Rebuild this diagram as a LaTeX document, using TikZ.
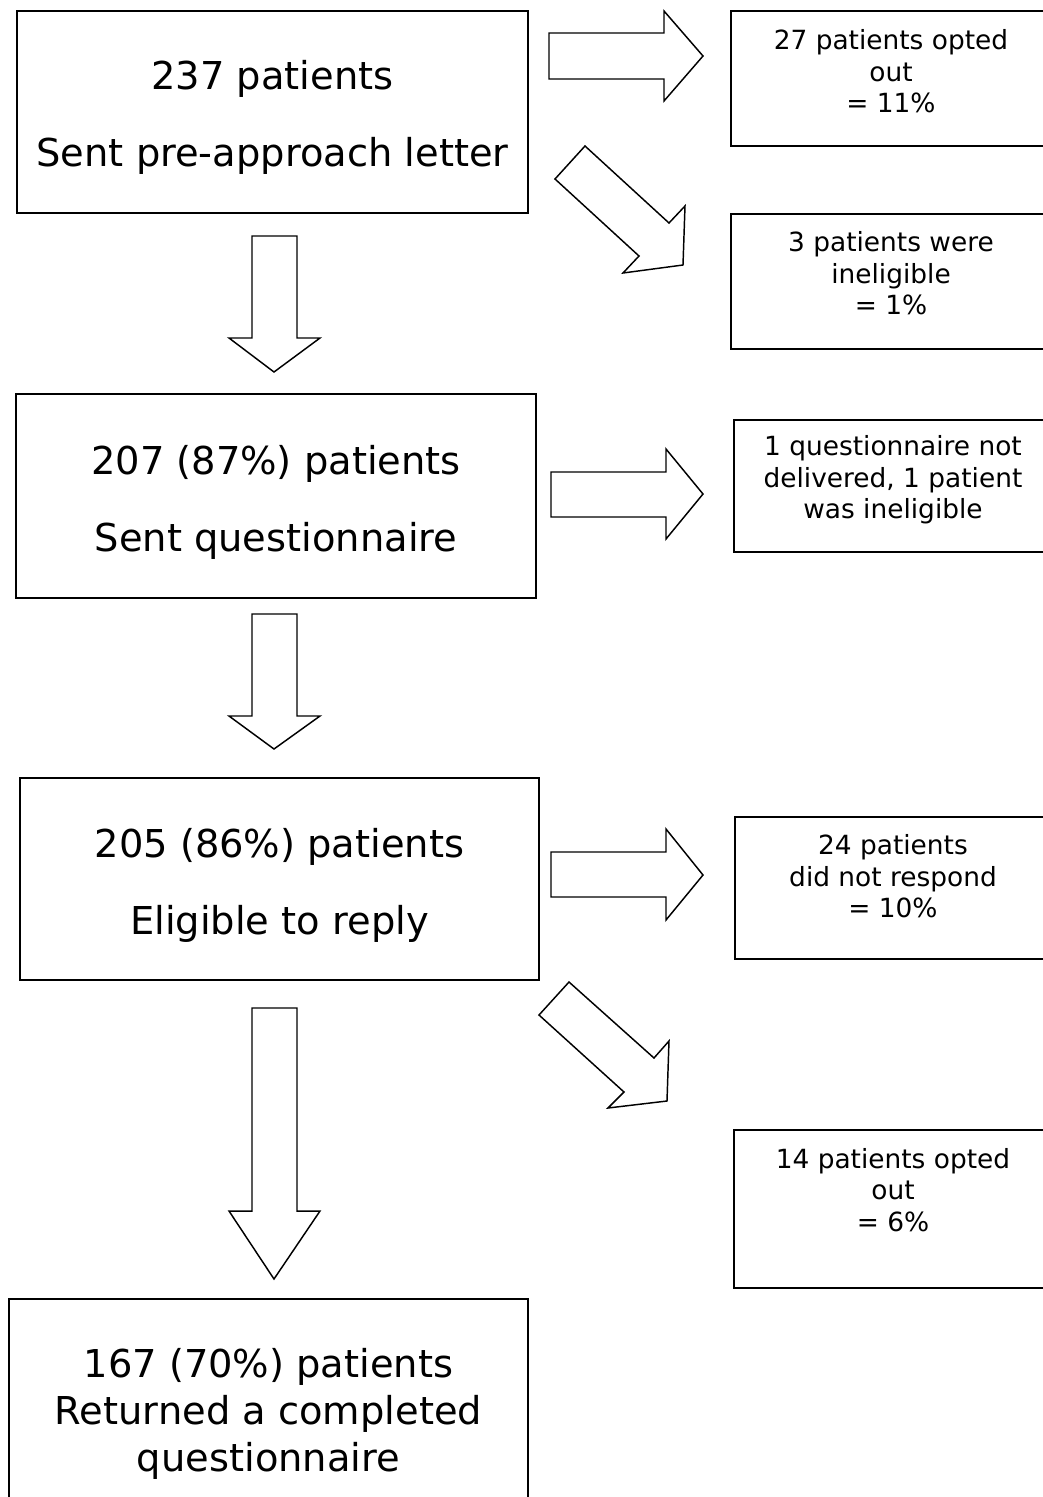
\documentclass[tikz,border=0pt]{standalone}
\usepackage{fontspec}
\setmainfont{DejaVu Sans}
\begin{document}
\begin{tikzpicture}[x=0.75pt,y=-0.75pt,
  box/.style={draw, line width=1.1pt, inner sep=0pt, outer sep=0pt},
  bigtxt/.style={align=center, inner sep=0pt, font=\fontsize{28.8}{57.75}\selectfont},
  smalltxt/.style={align=center, inner sep=0pt, font=\fontsize{19.8}{23.6}\selectfont},
  blockarrow/.style={draw, line width=1.1pt, line join=miter, fill=white}]
\useasboundingbox (0,0) rectangle (1043,1497);
% main boxes
\node[box, minimum width=383.25pt, minimum height=151.5pt] (b1) at (272.5,112) {};
\node[bigtxt] (t1) at (272.5,117) {237 patients\\Sent pre-approach letter};
\node[box, minimum width=390pt, minimum height=153pt] (b2) at (276,496) {};
\node[bigtxt] (t2) at (276,502) {207 (87\%) patients\\Sent questionnaire};
\node[box, minimum width=389.25pt, minimum height=151.5pt] (b3) at (279.5,879) {};
\node[bigtxt] (t3) at (279.5,885) {205 (86\%) patients\\Eligible to reply};
\node[box, minimum width=389.25pt, minimum height=165.75pt] (b4) at (268.5,1409.5) {};
\node[bigtxt, font=\fontsize{28.8}{35.25}\selectfont] (t4) at (268.5,1414) {167 (70\%) patients\\Returned a completed\\questionnaire};
% side boxes
\node[box, minimum width=240.75pt, minimum height=101.25pt] (sa) at (891.5,78.5) {};
\node[smalltxt] (ta) at (891,71.5) {27 patients opted\\out\\= 11\%};
\node[box, minimum width=240.75pt, minimum height=101.25pt] (sb) at (891.5,281.5) {};
\node[smalltxt] (tb) at (891,273.5) {3 patients were\\ineligible\\= 1\%};
\node[box, minimum width=238.5pt, minimum height=99pt] (sc) at (893,486) {};
\node[smalltxt] (tc) at (893,480) {1 questionnaire not\\delivered, 1 patient\\was ineligible};
\node[box, minimum width=237.75pt, minimum height=106.5pt] (sd) at (893.5,888) {};
\node[smalltxt] (td) at (893,876.5) {24 patients\\did not respond\\= 10\%};
\node[box, minimum width=238.5pt, minimum height=118.5pt] (se) at (893,1209) {};
\node[smalltxt] (te) at (893,1190) {14 patients opted\\out\\= 6\%};
% right block arrows
\draw[blockarrow] (549,33) -- (664,33) -- (664,11) -- (703,56) -- (664,101) -- (664,79) -- (549,79) -- cycle;
\draw[blockarrow] (551,472) -- (666,472) -- (666,449) -- (703,494) -- (666,539) -- (666,517) -- (551,517) -- cycle;
\draw[blockarrow] (551,852) -- (666,852) -- (666,829) -- (703,875) -- (666,920) -- (666,897) -- (551,897) -- cycle;
% diagonal block arrows
\draw[blockarrow] (585,146) -- (669,223) -- (685,206) -- (683,265) -- (623,273) -- (639,256) -- (555,179) -- cycle;
\draw[blockarrow] (569,982) -- (654,1058) -- (669,1041) -- (667,1101) -- (608,1108) -- (624,1092) -- (539,1015) -- cycle;
% down block arrows
\draw[blockarrow] (252,236) -- (297,236) -- (297,338) -- (320,338) -- (274,372) -- (229,338) -- (252,338) -- cycle;
\draw[blockarrow] (252,614) -- (297,614) -- (297,716) -- (320,716) -- (274,749) -- (229,716) -- (252,716) -- cycle;
\draw[blockarrow] (252,1008) -- (297,1008) -- (297,1211) -- (320,1211) -- (274,1279) -- (229,1211) -- (252,1211) -- cycle;
\end{tikzpicture}
\end{document}
